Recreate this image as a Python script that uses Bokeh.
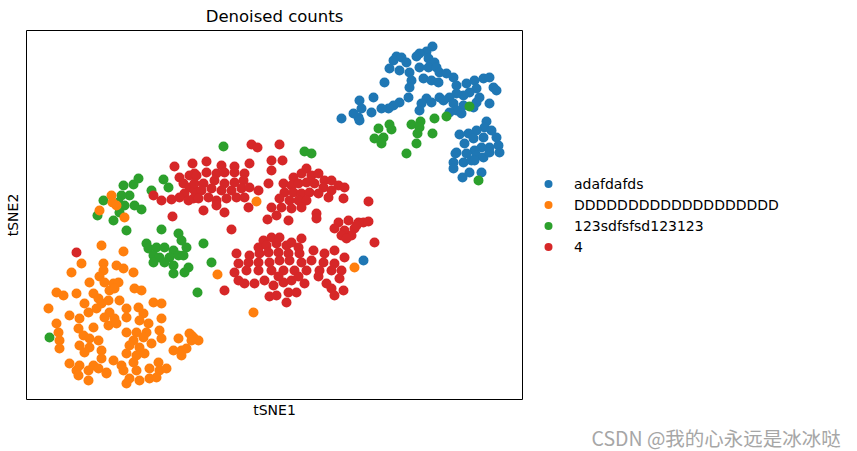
from bokeh.plotting import figure
from bokeh.models import Range1d, Legend, LegendItem, Title, ColumnDataSource
from bokeh.embed import file_html
from bokeh.resources import INLINE

categories = ["adafdafds", "DDDDDDDDDDDDDDDDDDD", "123sdfsfsd123123", "4"]
colors = ["#1f77b4", "#ff7f0e", "#2ca02c", "#d62728"]

# points (tSNE1, tSNE2 in picture units; tSNE2 grows downward)
blue_x = [431,425,418,415,395,400,392,405,427,433,388,398,408,418,427,435,438,445,452,410,422,430,437,383,408,455,465,473,482,488,492,495,475,468,462,455,448,438,478,475,488,472,462,452,442,455,448,460,425,420,418,430,407,398,392,387,380,372,358,360,370,357,340,352,358,
          485,483,490,475,467,458,472,463,482,495,497,488,480,473,498,455,465,454,452,452,461,475,482,488,462,470,473,468,480,362]
blue_y = [46,51,53,56,56,57,60,62,58,62,68,70,72,67,67,67,72,73,77,80,78,80,82,82,87,85,83,80,78,77,87,90,88,92,95,93,97,97,97,102,103,107,105,103,100,110,112,113,98,103,110,102,97,102,105,108,108,97,100,108,112,117,118,113,120,
          121,127,130,130,133,134,138,143,137,137,145,147,147,150,152,152,153,153,162,168,177,155,157,152,162,160,160,172,172,260]

green_x = [468,445,433,419,410,418,416,431,415,405,388,390,377,373,382,380,477,
           222,303,310,137,132,122,162,167,150,128,120,102,117,123,133,140,118,96,112,125,160,177,180,185,145,147,155,163,172,152,158,168,177,182,152,163,172,187,183,172,202,210,196,48]
green_y = [106,116,118,121,124,127,133,133,143,153,124,129,128,138,137,143,180,
           146,151,153,178,184,185,179,187,190,195,195,200,202,205,205,209,212,215,220,230,229,233,240,247,243,248,247,247,250,255,257,257,255,255,262,262,265,267,272,273,243,262,292,337]

orange_x = [110,111,115,98,123,100,122,80,102,115,122,132,70,102,98,255,216,353,252,197,190,
            88,103,112,117,55,62,75,92,108,113,133,140,47,83,97,100,107,118,152,160,68,87,95,108,125,137,55,78,103,113,125,142,160,
            57,77,92,107,115,138,147,125,135,145,158,58,82,88,97,132,142,160,177,188,58,78,88,100,128,138,150,172,180,185,192,190,
            83,100,125,135,143,180,68,78,92,112,120,132,157,75,87,97,105,122,135,148,158,165,77,87,105,128,138,148,155,125]
orange_y = [195,202,205,210,217,245,251,263,263,265,268,272,272,270,276,201,274,267,312,340,335,
            282,282,283,282,292,295,293,293,290,288,288,290,308,303,298,303,300,300,302,303,315,312,308,312,308,307,323,318,317,318,317,313,318,
            332,328,327,325,323,320,323,332,332,332,330,340,335,338,340,340,337,338,338,333,348,345,347,350,345,347,343,350,350,348,337,340,
            352,358,353,355,353,355,363,365,365,360,365,362,362,370,370,368,372,370,370,368,370,368,375,380,373,378,380,378,377,383]

red_x = [173,191,178,188,193,182,188,193,183,192,152,160,170,178,187,171,75,
         205,220,233,248,270,281,270,195,205,215,223,233,243,193,202,213,223,233,242,200,210,220,230,240,248,257,197,207,215,225,235,243,202,215,223,247,267,
         292,300,305,310,317,323,330,337,343,282,290,297,305,313,322,330,283,292,300,308,317,327,342,278,288,297,305,270,280,290,300,275,287,266,315,315,230,
         337,347,357,333,343,353,340,350,345,367,362,367,355,373,250,256,278,
         262,270,278,257,265,275,285,290,300,297,235,248,258,267,277,287,298,312,323,333,343,237,247,257,268,278,288,300,310,322,333,233,245,257,270,282,293,305,318,330,340,
         243,253,263,272,282,290,303,325,338,330,342,333,287,295,268,275,285,223,237,277,297,317]
red_y = [166,163,177,175,173,183,187,190,193,198,195,200,199,197,200,216,252,
         161,165,166,163,160,160,170,175,172,173,172,172,173,183,183,180,183,182,180,190,188,190,190,188,187,190,198,197,200,198,197,197,210,205,212,207,183,
         177,173,168,175,173,180,180,185,187,183,185,183,182,183,187,190,192,192,193,192,193,197,198,198,200,200,200,207,207,208,207,215,220,219,213,218,229,
         222,220,222,228,230,228,235,235,238,201,222,221,225,242,144,147,144,
         240,237,237,247,245,243,245,242,238,247,253,255,253,252,252,253,253,250,253,250,257,263,262,262,262,260,260,262,260,262,263,272,270,270,270,270,270,270,270,270,270,
         283,283,280,285,282,280,283,283,278,288,290,295,292,292,296,295,302,290,280,276,276,276]

p = figure(frame_width=496, frame_height=369,
           x_range=Range1d(25, 521), y_range=Range1d(399, 30),
           output_backend="svg", toolbar_location=None,
           min_border_left=25, min_border_top=30, min_border_right=330, min_border_bottom=50)

series = [(blue_x, blue_y, 0), (green_x, green_y, 2), (orange_x, orange_y, 1), (red_x, red_y, 3)]
renderers = {}
for xs, ys, ci in series:
    src = ColumnDataSource(dict(x=xs, y=ys))
    r = p.scatter("x", "y", source=src, size=10, fill_color=colors[ci], line_color=None)
    renderers[ci] = r

p.grid.visible = False
p.outline_line_color = "black"
p.outline_line_width = 1
p.background_fill_color = "white"
p.border_fill_color = "white"

ax = p.xaxis
ax.ticker = []
ax.major_tick_line_color = None
ax.minor_tick_line_color = None
ax.major_label_text_font_size = "0px"
ax.axis_line_color = None
ax.axis_label_text_font = "DejaVu Sans"
ax.axis_label_text_font_size = "14px"
ax.axis_label_text_font_style = "normal"
ax.axis_label_text_color = "black"
ax.major_label_standoff = 0
ax.major_tick_out = 0
ax.axis_label_standoff = 2
ax.axis_label = "tSNE1"
p.yaxis.visible = False

ylab = Title(text="tSNE2", align="center", vertical_align="top", standoff=8,
             text_font="DejaVu Sans", text_font_size="14px", text_font_style="normal",
             text_color="black")
p.add_layout(ylab, "left")

p.title.text = "Denoised counts"
p.title.align = "center"
p.title.text_font = "DejaVu Sans"
p.title.text_font_size = "16.5px"
p.title.text_font_style = "normal"
p.title.text_color = "black"
p.title.standoff = 9

legend = Legend(items=[LegendItem(label=categories[i], renderers=[renderers[i]]) for i in range(4)],
                location="center_left", border_line_color=None, background_fill_alpha=0,
                label_text_font="DejaVu Sans", label_text_font_size="14px", label_text_color="black",
                glyph_width=24, glyph_height=20, label_height=20, spacing=1, padding=0,
                margin=14, label_standoff=14)
p.add_layout(legend, "right")

wm = Title(text="CSDN @我的心永远是冰冰哒", align="left", offset=565,
           text_font="Noto Sans CJK SC", text_font_size="19.5px", text_font_style="normal",
           text_color="#a6a6a6", standoff=0)
p.add_layout(wm, "below")

open("out.html", "w").write(file_html(p, INLINE))
